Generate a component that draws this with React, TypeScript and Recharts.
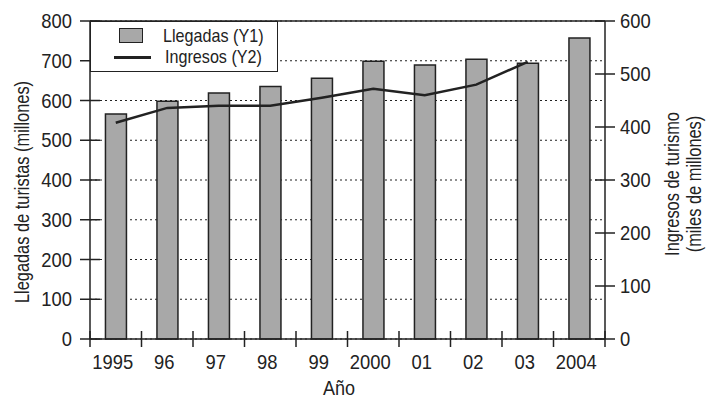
import React from 'react';
import {
  ComposedChart,
  Bar,
  Line,
  XAxis,
  YAxis,
  CartesianGrid,
  ReferenceLine,
  Label,
} from 'recharts';

// Años (categorías del eje X)
const years = ['1995', '96', '97', '98', '99', '2000', '01', '02', '03', '2004'];
// Llegadas de turistas internacionales (millones) – eje Y1
const llegadas = [566, 598, 619, 635, 656, 699, 689, 704, 694, 757];
// Ingresos por turismo (miles de millones) – eje Y2
const ingresos: (number | null)[] = [408, 436, 440, 440, 455, 472, 460, 480, 523, null];
// Marcas de los ejes
const leftTicks = [0, 100, 200, 300, 400, 500, 600, 700, 800];
const rightTicks = [0, 100, 200, 300, 400, 500, 600];

const data = years.map((year, i) => ({
  year,
  llegadas: llegadas[i],
  ingresos: ingresos[i],
}));

const INK = '#222';
const BAR_FILL = '#a8a8a8';
const FONT = "'Liberation Sans', Arial, sans-serif";

const W = 711;
const H = 399;
const PLOT_LEFT = 90;
const PLOT_RIGHT = 605;
const PLOT_TOP = 21;
const PLOT_BOTTOM = 339;
const HALF_BAND = (PLOT_RIGHT - PLOT_LEFT) / years.length / 2;

// Texto SVG algo estrecho (tipo "narrow")
type TProps = {
  x: number;
  y: number;
  anchor?: 'start' | 'middle' | 'end';
  rotate?: number;
  sx?: number;
  size?: number;
  children: React.ReactNode;
};
const T = ({ x, y, anchor = 'middle', rotate = 0, sx = 0.92, size = 20, children }: TProps) => (
  <text
    transform={`translate(${x} ${y}) rotate(${rotate}) scale(${sx} 1)`}
    textAnchor={anchor}
    dy="0.36em"
    fontFamily={FONT}
    fontSize={size}
    fill={INK}
  >
    {children}
  </text>
);

// Marca del eje izquierdo: cruza la línea del eje
const LeftTick = (props: any) => {
  const { x, y, payload } = props;
  return (
    <g>
      <line x1={x - 10} x2={x + 10} y1={y} y2={y} stroke={INK} strokeWidth={1.5} />
      <T x={x - 18} y={y} anchor="end">
        {payload.value}
      </T>
    </g>
  );
};

// Marca del eje derecho
const RightTick = (props: any) => {
  const { x, y, payload } = props;
  return (
    <g>
      <line x1={x - 10} x2={x + 10} y1={y} y2={y} stroke={INK} strokeWidth={1.5} />
      <T x={x + 15} y={y} anchor="start">
        {payload.value}
      </T>
    </g>
  );
};

// Marcas del eje X en los límites de cada categoría
const BottomTick = (props: any) => {
  const { x, y, payload, index } = props;
  const isLast = index === years.length - 1;
  return (
    <g>
      <line x1={x - HALF_BAND} x2={x - HALF_BAND} y1={y - 8} y2={y + 8} stroke={INK} strokeWidth={1.5} />
      {isLast && (
        <line x1={x + HALF_BAND} x2={x + HALF_BAND} y1={y - 8} y2={y + 8} stroke={INK} strokeWidth={1.5} />
      )}
      <T x={x - 3} y={y + 23}>
        {payload.value}
      </T>
    </g>
  );
};

const narrow = (k: number): React.CSSProperties => ({
  display: 'inline-block',
  transform: `scaleX(${k})`,
  transformOrigin: 'left center',
  whiteSpace: 'nowrap',
});

const LegendBox = () => (
  <div
    style={{
      position: 'absolute',
      left: PLOT_LEFT,
      top: PLOT_TOP,
      width: 188,
      height: 51,
      boxSizing: 'border-box',
      border: `1.5px solid ${INK}`,
      background: '#fff',
      fontFamily: FONT,
      fontSize: 19,
      color: INK,
    }}
  >
    <div
      style={{
        position: 'absolute',
        left: 28,
        top: 6,
        width: 24,
        height: 15,
        boxSizing: 'border-box',
        background: BAR_FILL,
        border: `1.5px solid ${INK}`,
      }}
    />
    <div style={{ position: 'absolute', left: 72, top: 3, lineHeight: '22px' }}>
      <span style={narrow(0.85)}>Llegadas (Y1)</span>
    </div>
    <div
      style={{
        position: 'absolute',
        left: 23,
        top: 34,
        width: 37,
        height: 3,
        background: INK,
      }}
    />
    <div style={{ position: 'absolute', left: 74, top: 24, lineHeight: '22px' }}>
      <span style={narrow(0.85)}>Ingresos (Y2)</span>
    </div>
  </div>
);

export default function App() {
  return (
    <div style={{ position: 'absolute', left: 0, top: 0, width: W, height: H, background: '#fff' }}>
      <ComposedChart
        width={W}
        height={H}
        data={data}
        margin={{ top: PLOT_TOP, right: 0, bottom: 0, left: 0 }}
        barCategoryGap="30%"
      >
        <CartesianGrid
          yAxisId="left"
          vertical={false}
          horizontal
          stroke={INK}
          strokeWidth={1.2}
          strokeDasharray="2 3"
        />
        <XAxis
          dataKey="year"
          height={H - PLOT_BOTTOM}
          axisLine={{ stroke: INK, strokeWidth: 1.5 }}
          tickLine={false}
          tickSize={0}
          tickMargin={0}
          interval={0}
          tick={<BottomTick />}
          label={
            <Label
              content={() => (
                <T x={339} y={388} sx={0.9}>
                  Año
                </T>
              )}
            />
          }
        />
        <YAxis
          yAxisId="left"
          orientation="left"
          width={PLOT_LEFT}
          domain={[0, 800]}
          ticks={leftTicks}
          interval={0}
          axisLine={{ stroke: INK, strokeWidth: 1.5 }}
          tickLine={false}
          tickSize={0}
          tickMargin={0}
          tick={<LeftTick />}
          label={
            <Label
              content={() => (
                <T x={22} y={192} rotate={-90} sx={0.82}>
                  Llegadas de turistas (millones)
                </T>
              )}
            />
          }
        />
        <YAxis
          yAxisId="right"
          orientation="right"
          width={W - PLOT_RIGHT}
          domain={[0, 600]}
          ticks={rightTicks}
          interval={0}
          axisLine={{ stroke: INK, strokeWidth: 1.5 }}
          tickLine={false}
          tickSize={0}
          tickMargin={0}
          tick={<RightTick />}
          label={
            <Label
              content={() => (
                <g>
                  <T x={672} y={184} rotate={-90} sx={0.82}>
                    Ingresos de turismo
                  </T>
                  <T x={694} y={184} rotate={-90} sx={0.82}>
                    (miles de millones)
                  </T>
                </g>
              )}
            />
          }
        />
        <ReferenceLine yAxisId="left" y={800} stroke={INK} strokeWidth={1.5} />
        <Bar
          yAxisId="left"
          dataKey="llegadas"
          name="Llegadas (Y1)"
          fill={BAR_FILL}
          stroke={INK}
          strokeWidth={1.5}
          isAnimationActive={false}
        />
        <Line
          yAxisId="right"
          dataKey="ingresos"
          name="Ingresos (Y2)"
          type="linear"
          stroke={INK}
          strokeWidth={2.5}
          dot={false}
          activeDot={false}
          connectNulls={false}
          isAnimationActive={false}
        />
      </ComposedChart>
      <LegendBox />
    </div>
  );
}
